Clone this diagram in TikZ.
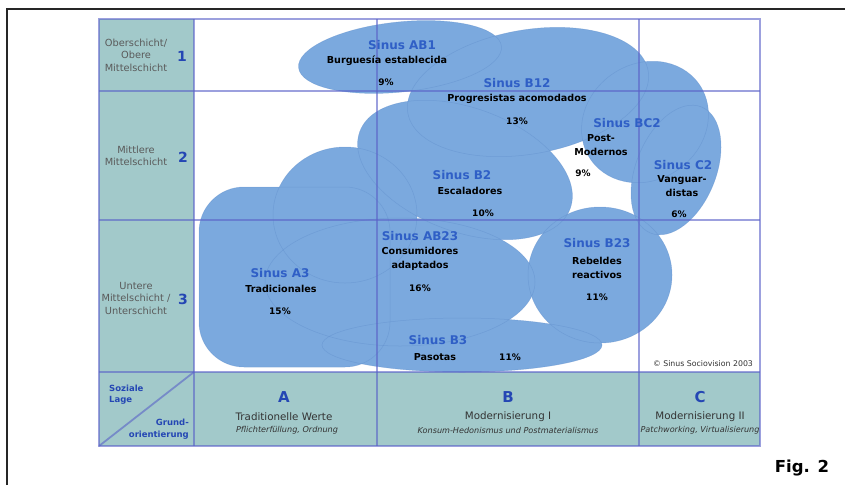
\documentclass[tikz,border=0pt]{standalone}
\usepackage{fontspec}
\setmainfont{DejaVu Sans}
\newfontfamily\figfont{DejaVu Sans}
\definecolor{bubfill}{HTML}{7BA9DE}
\definecolor{bubedge}{HTML}{5E8CCB}
\definecolor{cellc}{HTML}{A2C9CA}
\definecolor{gridc}{HTML}{5A62C8}
\definecolor{sblue}{HTML}{2F5FC6}
\definecolor{nblue}{HTML}{2446B4}
\definecolor{greytxt}{HTML}{5A5A5A}
\definecolor{darktxt}{HTML}{333333}

% all milieu bubbles, drawn once filled and once outlined
\newcommand\milieus[1]{%
  \path[#1, rotate around={6:(400,57)}] (400,57) ellipse [x radius=102, y radius=35];
  \path[#1, rotate around={10:(528,92)}] (528,92) ellipse [x radius=122, y radius=62];
  \path[#1, rotate around={35:(645,122)}] (645,122) ellipse [x radius=66, y radius=58];
  \path[#1, rotate around={-22:(676,170)}] (676,170) ellipse [x radius=40, y radius=68];
  \path[#1, rotate around={-20:(465,170)}] (465,170) ellipse [x radius=112, y radius=62];
  \path[#1] (345,215) ellipse [x radius=72, y radius=68];
  \path[#1] (400,282) ellipse [x radius=135, y radius=64];
  \path[#1, rounded corners=45] (199,187) rectangle (390,367);
  \path[#1] (462,345) ellipse [x radius=140, y radius=27];
  \path[#1] (600,275) ellipse [x radius=72, y radius=68];
}

\begin{document}
\begin{tikzpicture}[x=1pt,y=-1pt,
  bub/.style={fill=bubfill},
  bubline/.style={draw=bubedge, line width=0.5pt, draw opacity=0.45},
  cell/.style={fill=cellc},
  gridline/.style={draw=gridc, line width=1.8pt, draw opacity=0.6},
  sname/.style={inner sep=0pt, text=sblue, font=\fontsize{12}{13}\bfseries},
  slabel/.style={inner sep=0pt, align=center, font=\fontsize{9.6}{13.5}\bfseries},
  spct/.style={inner sep=0pt, font=\fontsize{9}{11}\bfseries},
  layer/.style={inner sep=0pt, align=center, text=greytxt, font=\fontsize{9.8}{12.5}\selectfont},
  layernum/.style={inner sep=0pt, text=nblue, font=\fontsize{14}{16}\bfseries},
  orient/.style={inner sep=0pt, text=nblue, font=\fontsize{15}{17}\bfseries},
  orienttxt/.style={inner sep=0pt, text=darktxt, font=\fontsize{10.3}{12}\selectfont},
  orientsub/.style={inner sep=0pt, text=darktxt, font=\fontsize{8.1}{9}\itshape},
  corner/.style={inner sep=0pt, text=nblue, font=\fontsize{8.5}{12}\bfseries}]

\useasboundingbox (0,0) rectangle (845,485);
\fill[white] (0,0) rectangle (845,485);
\draw[line width=1.4pt, draw=black!85] (7,485) -- (7,9) -- (845,9);

% shaded label cells
\fill[cell] (99,19) rectangle (194,372);
\fill[cell] (99,372) rectangle (760,446);

% milieu bubbles
\milieus{bub}
\milieus{bubline}

% grid
\path[gridline] (99,19) rectangle (760,446);
\path[gridline] (194,19) -- (194,446);
\path[gridline] (377,19) -- (377,446);
\path[gridline] (639,19) -- (639,446);
\path[gridline] (99,91) -- (760,91);
\path[gridline] (99,220) -- (760,220);
\path[gridline] (99,372) -- (760,372);
\path[gridline] (99,446) -- (194,372);

% social layers
\node[layer] (l1) at (136,55) {Oberschicht/\\Obere\\Mittelschicht};
\node[layernum] (n1) at (182,56) {1};
\node[layer] (l2) at (136,156) {Mittlere\\Mittelschicht};
\node[layernum] (n2) at (183,157) {2};
\node[layer] (l3) at (136,298) {Untere\\Mittelschicht /\\Unterschicht};
\node[layernum] (n3) at (183,299) {3};

% corner cell
\node[corner, anchor=west] (cs1) at (109,388) {Soziale};
\node[corner, anchor=west] (cs2) at (109,400) {Lage};
\node[corner, anchor=east] (cg1) at (189,422) {Grund-};
\node[corner, anchor=east] (cg2) at (189,435) {orientierung};

% basic orientations
\node[orient] (oa) at (284,397) {A};
\node[orienttxt] (oa1) at (284,417) {Traditionelle Werte};
\node[orientsub] (oa2) at (287,430) {Pflichterfüllung, Ordnung};
\node[orient] (ob) at (508,397) {B};
\node[orienttxt] (ob1) at (508,417) {Modernisierung I};
\node[orientsub] (ob2) at (508,430) {Konsum-Hedonismus und Postmaterialismus};
\node[orient] (oc) at (700,397) {C};
\node[orienttxt] (oc1) at (700,417) {Modernisierung II};
\node[orientsub] (oc2) at (700,430) {Patchworking, Virtualisierung};

% milieu labels
\node[sname] (ab1) at (402,45) {Sinus AB1};
\node[slabel] (ab1t) at (387,61) {Burguesía establecida};
\node[spct] (ab1p) at (386,82) {9\%};

\node[sname] (b12) at (517,83) {Sinus B12};
\node[slabel] (b12t) at (517,99) {Progresistas acomodados};
\node[spct] (b12p) at (517,121) {13\%};

\node[sname] (bc2) at (627,123) {Sinus BC2};
\node[slabel] (bc2t) at (601,145) {Post-\\Modernos};
\node[spct] (bc2p) at (583,173) {9\%};

\node[sname] (c2) at (683,165) {Sinus C2};
\node[slabel] (c2t) at (682,186) {Vanguar-\\distas};
\node[spct] (c2p) at (679,214) {6\%};

\node[sname] (b2) at (462,175) {Sinus B2};
\node[slabel] (b2t) at (470,191) {Escaladores};
\node[spct] (b2p) at (483,213) {10\%};

\node[sname] (ab23) at (420,236) {Sinus AB23};
\node[slabel] (ab23t) at (420,259) {Consumidores\\adaptados};
\node[spct] (ab23p) at (420,288) {16\%};

\node[sname] (a3) at (280,273) {Sinus A3};
\node[slabel] (a3t) at (281,289) {Tradicionales};
\node[spct] (a3p) at (280,311) {15\%};

\node[sname] (b3) at (438,340) {Sinus B3};
\node[slabel] (b3t) at (435,357) {Pasotas};
\node[spct] (b3p) at (510,357) {11\%};

\node[sname] (b23) at (597,243) {Sinus B23};
\node[slabel] (b23t) at (597,268) {Rebeldes\\reactivos};
\node[spct] (b23p) at (597,297) {11\%};

\node[inner sep=0pt, font=\fontsize{7.8}{9}\selectfont, text=darktxt] (copy) at (703,364) {© Sinus Sociovision 2003};

\node[inner sep=0pt, font=\figfont\fontsize{16.5}{18}\bfseries] (fig) at (802,468) {Fig. 2};
\end{tikzpicture}
\end{document}
